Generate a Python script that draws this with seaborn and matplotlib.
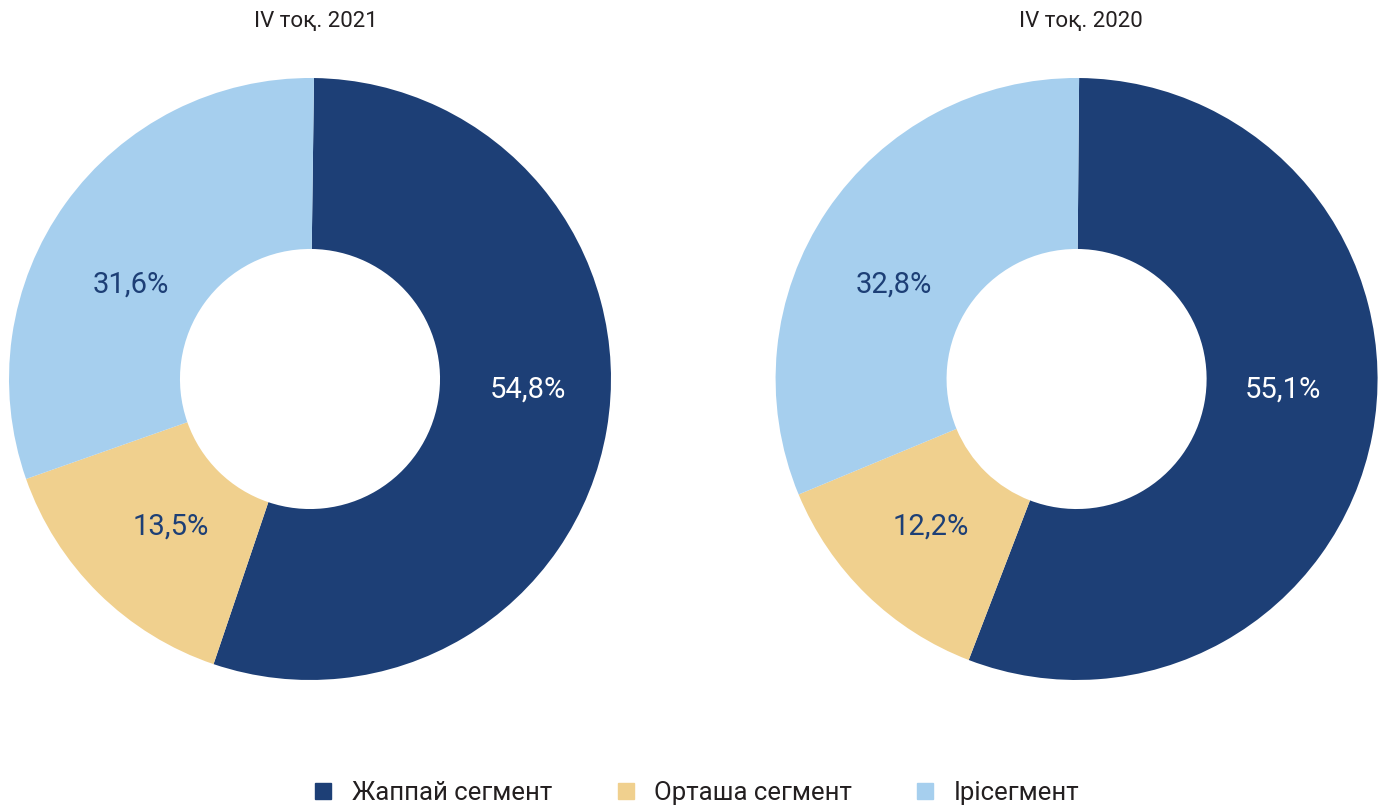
import matplotlib
matplotlib.use("Agg")
import numpy as np
import matplotlib.pyplot as plt
import seaborn as sns
from matplotlib.lines import Line2D

# data (wedge shares as drawn, labels as printed)
segments = ["Жаппай сегмент", "Орташа сегмент", "Ірісегмент"]
titles = ["IV тоқ. 2021", "IV тоқ. 2020"]
shares_2021 = [54.98, 14.42, 30.6]
shares_2020 = [55.7, 12.9, 31.4]
label_2021 = ["54,8%", "13,5%", "31,6%"]
label_2020 = ["55,1%", "12,2%", "32,8%"]

# label placement (clockwise degrees from 12 o'clock, radius in pie units)
label_pos_2021 = [(92.8, 0.725), (223.3, 0.673), (297.7, 0.674)]
label_pos_2020 = [(92.9, 0.687), (224.6, 0.688), (297.4, 0.683)]

colors = sns.color_palette(["#1d3f76", "#f0d08e", "#a6cfee"])
text_colors = ["white", "#1d3f76", "#1d3f76"]

sns.set_theme(style="white")
plt.rcParams["font.family"] = ["Roboto", "DejaVu Sans"]

fig = plt.figure(figsize=(13.79, 8.05), dpi=100)
ax_left = fig.add_axes([0.0065, 0.1553, 0.4366, 0.7478])
ax_right = fig.add_axes([0.5624, 0.1553, 0.4366, 0.7478])


def draw_donut(ax, values, labels, positions, title, start, title_x):
    ax.pie(values, colors=colors, startangle=start, counterclock=False,
           radius=1.0, wedgeprops=dict(width=0.568, linewidth=0))
    for lab, (ang, r), tc in zip(labels, positions, text_colors):
        theta = np.radians(90 - ang)
        ax.text(r * np.cos(theta), r * np.sin(theta), lab,
                ha="center", va="center", fontsize=21, color=tc)
    ax.set_xlim(-1, 1)
    ax.set_ylim(-1, 1)
    ax.set_aspect("equal")
    ax.axis("off")
    ax.text(title_x, 1.188, title, ha="center", va="center",
            fontsize=16, color="#231f20")


draw_donut(ax_left, shares_2021, label_2021, label_pos_2021, titles[0], 89.24, 0.02)
draw_donut(ax_right, shares_2020, label_2020, label_pos_2020, titles[1], 89.52, 0.015)

handles = [Line2D([0], [0], marker="s", linestyle="none", markersize=11,
                  markerfacecolor=c, markeredgecolor=c) for c in colors]
fig.legend(handles, segments, loc="center", bbox_to_anchor=(0.505, 0.015),
           ncol=3, frameon=False, fontsize=18.5, columnspacing=2.45,
           handlelength=0.8, handletextpad=0.72, labelcolor="#231f20",
           borderpad=0, borderaxespad=0)

fig.savefig("out.png", dpi=100)
